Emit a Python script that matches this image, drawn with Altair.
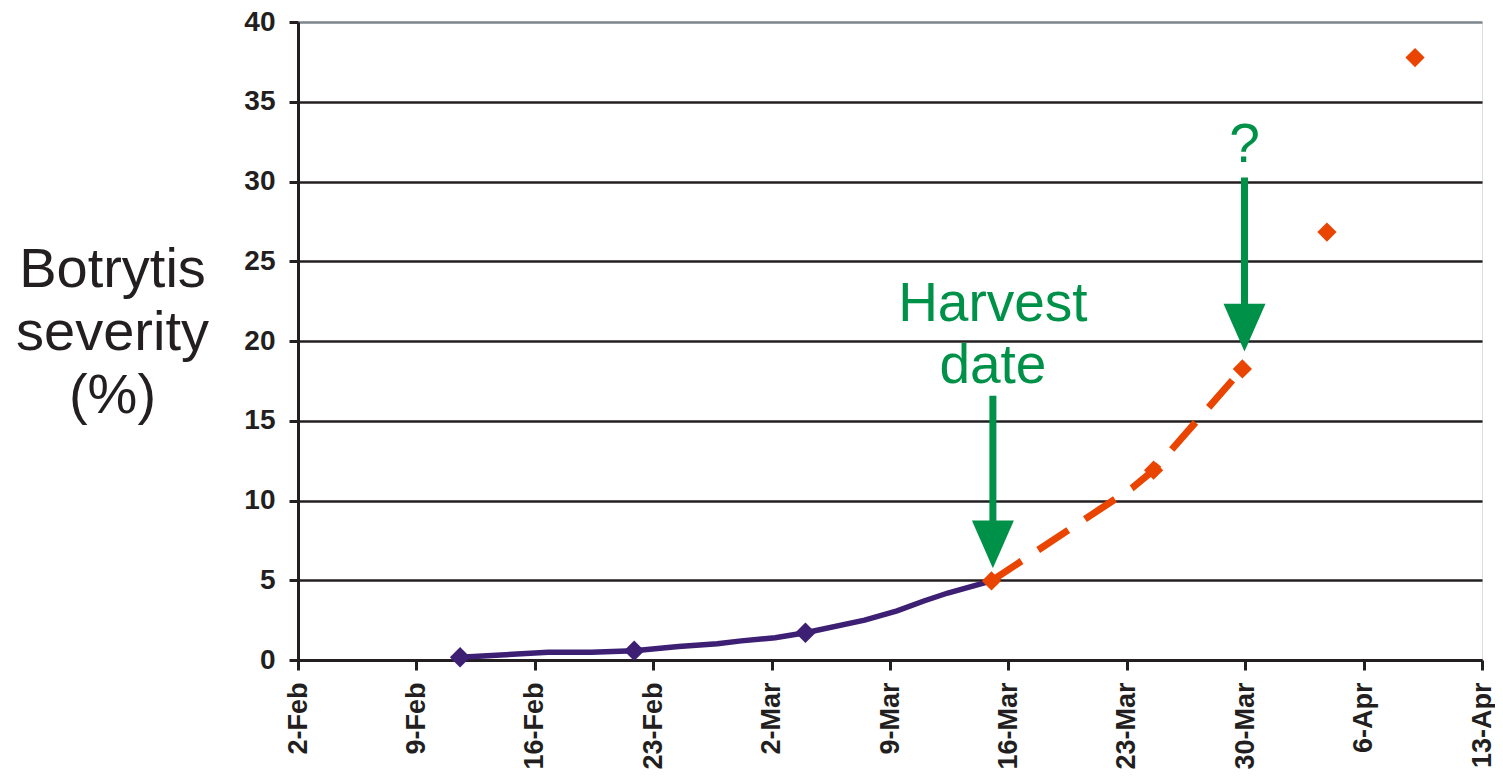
import altair as alt
import pandas as pd

# ---------------- data ----------------
# observed (purple) severity curve
obs_dates = ["2009-02-11T14:00", "2009-02-16T19:00", "2009-02-19T08:00", "2009-02-21T21:00",
             "2009-02-24T12:00", "2009-02-26T19:00", "2009-02-28T05:00", "2009-03-02T05:00",
             "2009-03-04T00:00", "2009-03-07T12:00", "2009-03-09T10:00", "2009-03-11T00:00",
             "2009-03-12T10:00", "2009-03-15T00:00"]
obs_values = [0.17, 0.48, 0.48, 0.58, 0.85, 1.02, 1.2, 1.4, 1.71, 2.5, 3.08, 3.7, 4.2, 4.96]
obs_marker_dates = ["2009-02-11T14:00", "2009-02-21T21:00", "2009-03-04T00:00"]
obs_marker_values = [0.17, 0.58, 1.71]

# projected (orange) severity
proj_line_dates = ["2009-03-15T00:00", "2009-03-23T08:00", "2009-03-24T14:00", "2009-03-29T20:00"]
proj_line_values = [4.96, 10.8, 11.9, 18.25]
proj_marker_dates = ["2009-03-15T00:00", "2009-03-24T14:00", "2009-03-29T20:00",
                     "2009-04-03T20:00", "2009-04-09T01:00"]
proj_marker_values = [4.96, 11.9, 18.25, 26.83, 37.77]

# axis ticks
tick_dates = [(2009, 2, 2), (2009, 2, 9), (2009, 2, 16), (2009, 2, 23), (2009, 3, 2),
              (2009, 3, 9), (2009, 3, 16), (2009, 3, 23), (2009, 3, 30), (2009, 4, 6),
              (2009, 4, 13)]
y_ticks = [0, 5, 10, 15, 20, 25, 30, 35, 40]

# annotations
label_texts = ["Harvest", "date", "?"]
label_dates = ["2009-03-15T02:00", "2009-03-15T02:00", "2009-03-29T23:00"]
label_values = [21.25, 17.39, 31.25]
arrow_dates = ["2009-03-15T02:00", "2009-03-29T23:00"]
arrow_tops = [16.56, 30.25]
arrow_ends = [8.2, 21.9]
head_values = [7.25, 20.84]

# ---------------- styling ----------------
PURPLE = "#3d1f74"
ORANGE = "#e94400"
GREEN = "#009149"
DARK = "#231f20"
GRAY = "#7d868c"
FONT = "Liberation Sans"

obs_df = pd.DataFrame({"date": obs_dates, "value": obs_values})
obs_pt_df = pd.DataFrame({"date": obs_marker_dates, "value": obs_marker_values})
proj_df = pd.DataFrame({"date": proj_line_dates, "value": proj_line_values})
proj_pt_df = pd.DataFrame({"date": proj_marker_dates, "value": proj_marker_values})
label_df = pd.DataFrame({"date": label_dates, "value": label_values, "text": label_texts})
arrow_df = pd.DataFrame({"date": arrow_dates, "top": arrow_tops, "end": arrow_ends,
                         "head": head_values})

x_scale = alt.Scale(domain=[alt.DateTime(year=2009, month=2, date=2),
                            alt.DateTime(year=2009, month=4, date=13)], nice=False)
y_scale = alt.Scale(domain=[0, 40], nice=False, zero=True)

x_axis = alt.Axis(
    values=[alt.DateTime(year=y, month=m, date=d) for (y, m, d) in tick_dates],
    format="%-d-%b", labelAngle=-90, labelFont=FONT, labelFontSize=27,
    labelFontWeight="bold", labelColor=DARK, labelPadding=12, labelOverlap=False,
    tickSize=10, tickWidth=3, tickColor=DARK, domainColor=DARK, domainWidth=3,
    grid=False, title=None,
)
y_axis = alt.Axis(
    values=y_ticks, format="d", labelFont=FONT, labelFontSize=28, labelFontWeight="bold",
    labelColor=DARK, labelPadding=14, tickSize=9, tickWidth=3, tickColor=DARK,
    domainColor=DARK, domainWidth=3, grid=True,
    gridColor={"condition": {"test": "datum.value === 40", "value": GRAY}, "value": DARK},
    gridWidth=2.5, gridOpacity=1,
    title=["Botrytis", "severity", "(%)"], titleFont=FONT, titleFontSize=56,
    titleFontWeight="normal", titleColor=DARK, titleAngle=0, titleAlign="center",
    titleBaseline="alphabetic", titleX=-186, titleY=264, titleLineHeight=63,
)

X = alt.X("date:T", scale=x_scale, axis=x_axis)
Y = alt.Y("value:Q", scale=y_scale, axis=y_axis)

obs_line = alt.Chart(obs_df).mark_line(color=PURPLE, strokeWidth=5.5).encode(x=X, y=Y)
obs_pts = alt.Chart(obs_pt_df).mark_point(shape="diamond", filled=True, size=420,
                                           color=PURPLE, opacity=1).encode(x=X, y=Y)
proj_line = alt.Chart(proj_df).mark_line(color=ORANGE, strokeWidth=7,
                                         strokeDash=[36, 20]).encode(x=X, y=Y)
proj_pts = alt.Chart(proj_pt_df).mark_point(shape="diamond", filled=True, size=370,
                                             color=ORANGE, opacity=1).encode(x=X, y=Y)

shafts = alt.Chart(arrow_df).mark_rule(color=GREEN, strokeWidth=7).encode(
    x=alt.X("date:T", scale=x_scale, axis=x_axis),
    y=alt.Y("top:Q", scale=y_scale, axis=y_axis),
    y2="end:Q",
)
heads = alt.Chart(arrow_df).mark_point(
    shape="M-1,-1.14L1,-1.14L0,1.14Z", filled=True, size=1764, color=GREEN, opacity=1,
    strokeWidth=0,
).encode(
    x=alt.X("date:T", scale=x_scale, axis=x_axis),
    y=alt.Y("head:Q", scale=y_scale, axis=y_axis),
)
labels = alt.Chart(label_df).mark_text(
    font=FONT, fontSize=55, color=GREEN, align="center", baseline="alphabetic"
).encode(x=X, y=Y, text="text:N")

chart = alt.layer(
    obs_line, proj_line, obs_pts, proj_pts, shafts, heads, labels
).properties(
    width=1184, height=638, autosize="none",
    padding={"left": 290, "top": 14, "right": 13, "bottom": 110},
).configure_view(stroke=GRAY, strokeWidth=3).configure(background="white")

chart.save("out.html", embed_options={"renderer": "svg", "actions": False})
